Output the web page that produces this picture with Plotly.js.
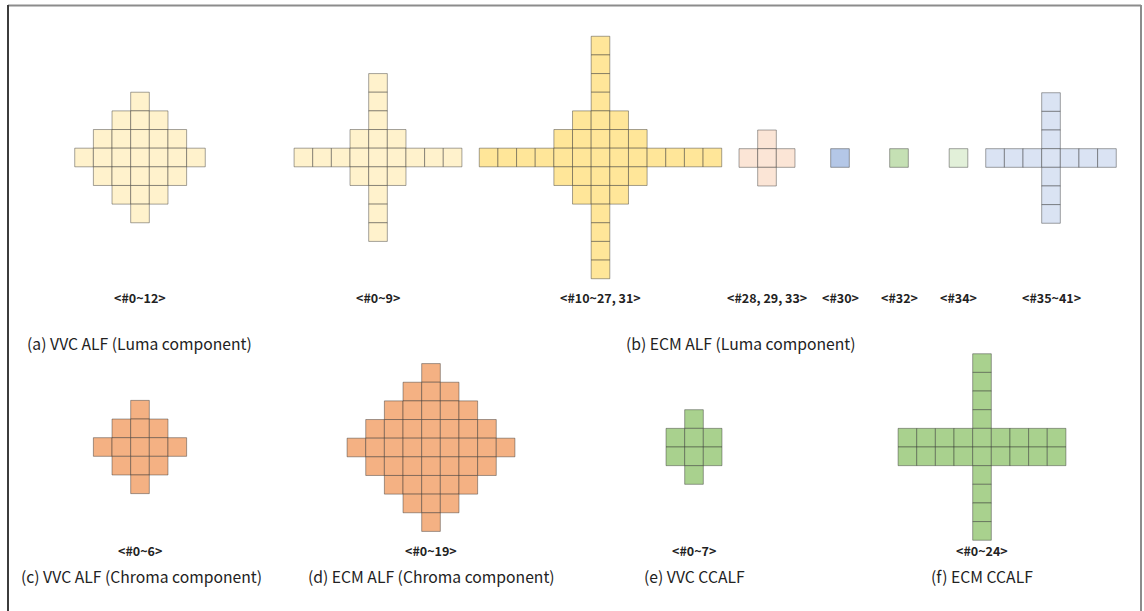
<!DOCTYPE html>
<html>
<head>
<meta charset="utf-8">
<script src="https://cdn.plot.ly/plotly-3.0.1.min.js"></script>
<style>html,body{margin:0;padding:0;background:#fff;}#chart{width:1144px;height:611px;}</style>
</head>
<body>
<div id="chart"></div>
<script>
// ---- DATA: filter shapes as number of taps per row (each row centred) ----
const vvcLumaRows      = [1,3,5,7,5,3,1];                    // <#0~12>
const ecmLumaARows     = [1,1,1,3,9,3,1,1,1];                // <#0~9>
const ecmLumaBRows     = [1,1,1,1,3,5,13,5,3,1,1,1,1];       // <#10~27, 31>
const ecmLumaCRows     = [1,3,1];                            // <#28, 29, 33>
const ecmLumaDRows     = [1];                                // <#30>
const ecmLumaERows     = [1];                                // <#32>
const ecmLumaFRows     = [1];                                // <#34>
const ecmLumaGRows     = [1,1,1,7,1,1,1];                    // <#35~41>
const vvcChromaRows    = [1,3,5,3,1];                        // <#0~6>
const ecmChromaRows    = [1,3,5,7,9,7,5,3,1];                // <#0~19>
const vvcCcalfRows     = [1,3,3,1];                          // <#0~7>
const ecmCcalfRows     = [1,1,1,1,9,9,1,1,1,1];              // <#0~24>

const shapeLabels = ["<#0~12>","<#0~9>","<#10~27, 31>","<#28, 29, 33>","<#30>","<#32>","<#34>","<#35~41>",
                     "<#0~6>","<#0~19>","<#0~7>","<#0~24>"];
const captions = ["(a) VVC ALF (Luma component)","(b) ECM ALF (Luma component)",
                  "(c) VVC ALF (Chroma component)","(d) ECM ALF (Chroma component)",
                  "(e) VVC CCALF","(f) ECM CCALF"];

// ---- LAYOUT / STYLE ----
const CELL = 18.65;
const shapes = [
  {rows: vvcLumaRows,   cx: 140,   cy: 157.5, color: '#fff2cc', ly: 297},
  {rows: ecmLumaARows,  cx: 378,   cy: 157.5, color: '#fff2cc', ly: 297},
  {rows: ecmLumaBRows,  cx: 600.5, cy: 157.5, color: '#ffe699', ly: 297},
  {rows: ecmLumaCRows,  cx: 767,   cy: 158,   color: '#fbe5d6', ly: 297},
  {rows: ecmLumaDRows,  cx: 840,   cy: 158,   color: '#b4c7e7', ly: 297},
  {rows: ecmLumaERows,  cx: 899,   cy: 158,   color: '#c5e0b4', ly: 297},
  {rows: ecmLumaFRows,  cx: 958.5, cy: 158,   color: '#e2f0d9', ly: 297},
  {rows: ecmLumaGRows,  cx: 1051,  cy: 158,   color: '#dae3f3', ly: 297},
  {rows: vvcChromaRows, cx: 140,   cy: 447,   color: '#f4b183', ly: 550},
  {rows: ecmChromaRows, cx: 431,   cy: 447.5, color: '#f4b183', ly: 550},
  {rows: vvcCcalfRows,  cx: 694,   cy: 447,   color: '#a9d18e', ly: 550},
  {rows: ecmCcalfRows,  cx: 982,   cy: 447,   color: '#a9d18e', ly: 550}
];
const captionPos = [
  {x: 25,  y: 343, anchor: 'left'},
  {x: 624, y: 343, anchor: 'left'},
  {x: 141, y: 576, anchor: 'center'},
  {x: 431, y: 576, anchor: 'center'},
  {x: 694, y: 576, anchor: 'center'},
  {x: 982, y: 576, anchor: 'center'}
];

const traces = [];
const annotations = [];
shapes.forEach((s, i) => {
  const xs = [], ys = [];
  const n = s.rows.length;
  s.rows.forEach((w, r) => {
    const yy = s.cy + (r - (n - 1) / 2) * CELL;
    for (let c = 0; c < w; c++) {
      xs.push(s.cx + (c - (w - 1) / 2) * CELL);
      ys.push(yy);
    }
  });
  traces.push({
    type: 'scatter', mode: 'markers', x: xs, y: ys, hoverinfo: 'skip', showlegend: false,
    marker: {symbol: 'square', size: CELL, color: s.color,
             line: {color: 'rgba(40,40,40,0.42)', width: 1}}
  });
  annotations.push({x: s.cx, y: s.ly, xref: 'x', yref: 'y', text: '<b>' + shapeLabels[i].replace(/</g,'&lt;').replace(/>/g,'&gt;') + '</b>',
    showarrow: false, xanchor: 'center', yanchor: 'middle',
    font: {family: 'Noto Sans CJK KR, Noto Sans, sans-serif', size: 12.5, color: '#222'}});
});
captions.forEach((t, i) => {
  const p = captionPos[i];
  annotations.push({x: p.x, y: p.y, xref: 'x', yref: 'y', text: t, showarrow: false,
    xanchor: p.anchor, yanchor: 'middle',
    font: {family: 'Noto Sans CJK KR, Noto Sans, sans-serif', size: 15.7, color: '#222'}});
});

const layout = {
  width: 1144, height: 611,
  margin: {l: 0, r: 0, t: 0, b: 0},
  paper_bgcolor: '#ffffff', plot_bgcolor: '#ffffff',
  xaxis: {range: [0, 1144], visible: false, fixedrange: true},
  yaxis: {range: [611, 0], visible: false, fixedrange: true},
  annotations: annotations,
  shapes: [
    {type: 'line', xref: 'x', yref: 'y', x0: 8, x1: 1141, y0: 5.5, y1: 5.5, line: {color: '#8c8c8c', width: 2}},
    {type: 'line', xref: 'x', yref: 'y', x0: 8, x1: 8, y0: 5, y1: 611, line: {color: '#3c3c3c', width: 2}},
    {type: 'line', xref: 'x', yref: 'y', x0: 1141, x1: 1141, y0: 5, y1: 611, line: {color: '#8c8c8c', width: 2}}
  ]
};
Plotly.newPlot('chart', traces, layout, {staticPlot: true, displayModeBar: false});
</script>
</body>
</html>
